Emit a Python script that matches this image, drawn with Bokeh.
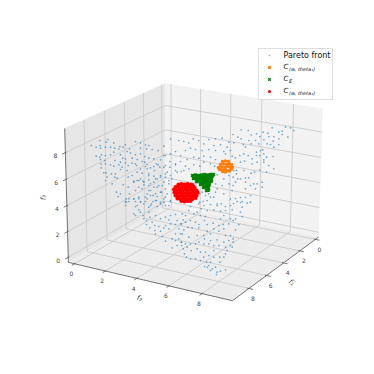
import numpy as np
from bokeh.plotting import figure
from bokeh.embed import file_html
from bokeh.resources import INLINE
from bokeh.core.properties import value

ticks = [0, 2, 4, 6, 8]
tick_labels = ["0", "2", "4", "6", "8"]
lim_lo, lim_hi = -0.4, 9.8

# Box corners: (f1, f2, f3) limits -> picture position
corner_keys = [(1,0,0),(1,1,0),(0,1,0),(0,0,0),(1,0,1),(0,0,1),(0,1,1)]
corner_pos = [(68,262),(232,300),(318,237),(165,205),(64,128),(165,83),(322,108)]

# Pareto front points, region by region, in 1/3 px
region_a_origin = (85, 135)
region_a = [(17,30),(32,35),(43,15),(44,30),(45,38),(62,20),(67,12),(85,22),(60,35),(75,35),(88,38),(100,40),(103,33),(113,35),(120,28),(132,40),(150,18),(165,22),(165,38),(180,28),(190,30),(200,42),(218,45),(183,40),(32,62),(43,65),(48,58),(45,72),(60,60),(75,58),(58,75),(47,85),(60,85),(47,97),(85,50),(105,58),(125,48),(135,52),(150,58),(165,55),(112,68),(120,70),(140,68),(155,72),(178,63),(190,68),(205,70),(88,75),(105,80),(120,82),(150,85),(170,78),(178,80),(185,87),(75,88),(85,92),(100,88),(110,95),(105,102),(128,90),(125,105),(185,100),(205,93),(218,88),(190,115),(205,122),(215,130),(55,112),(62,112),(78,115),(90,115),(65,125),(88,125),(95,128),(80,145),(60,135),(113,148),(128,125),(128,155),(145,137),(155,135),(165,130),(172,137),(190,133),(160,155),(175,148),(190,150),(205,140),(215,155),(93,170),(105,175),(98,183),(122,190),(132,175),(130,190),(122,200),(145,190),(160,190),(165,200),(185,175),(195,165),(203,180),(215,183),(185,190),(213,195),(198,205)]
region_b_origin = (160, 135)
region_b = [(10,32),(30,10),(55,15),(70,18),(85,22),(98,10),(115,15),(130,25),(145,12),(165,10),(185,8),(205,20),(220,22),(160,30),(180,28),(200,35),(90,38),(105,42),(125,45),(145,42),(165,45),(190,48),(210,45),(10,60),(30,55),(45,48),(60,60),(75,45),(80,72),(100,65),(115,68),(130,62),(150,65),(165,72),(195,55),(215,62),(28,78),(45,88),(60,78),(45,105),(62,108),(75,92),(85,100),(100,88),(118,92),(130,80),(150,85),(162,92),(10,95),(20,110),(0,120),(15,125),(35,130),(5,150),(25,145),(3,170),(20,175),(10,190),(30,195),(118,175),(125,170),(135,180),(145,175),(165,145),(170,160),(190,130),(205,120),(218,125),(185,150),(205,145),(215,165),(190,175),(210,190),(160,185),(140,195),(118,200),(170,205),(115,130),(170,118)]
region_c_origin = (230, 120)
region_c = [(32,28),(53,30),(8,42),(22,50),(32,55),(62,43),(78,40),(98,35),(112,38),(125,22),(145,35),(155,32),(165,20),(180,22),(190,30),(172,50),(130,48),(115,48),(100,58),(88,48),(75,60),(55,60),(38,72),(45,80),(62,70),(85,70),(110,70),(128,62),(145,55),(155,42),(145,72),(130,80),(120,72),(97,88),(90,90),(78,95),(78,105),(88,105),(40,100),(28,105),(15,112),(53,105),(65,115),(100,100),(108,110),(128,108),(100,118),(100,125),(30,125),(42,122),(65,130),(80,125),(115,135),(88,148),(108,155),(130,145),(10,150),(18,150),(18,160),(40,150),(62,158),(72,155),(30,175),(45,172),(55,172),(15,185),(45,185),(60,195),(70,190),(80,190),(95,185),(95,200),(45,205),(75,205),(22,175),(8,195),(30,231),(45,231),(9,249),(30,246),(60,225),(15,234)]
region_d_origin = (110, 200)
region_d = [(45,3),(55,3),(75,3),(90,3),(105,3),(128,3),(150,10),(160,5),(180,3),(45,15),(75,18),(120,15),(140,18),(165,15),(85,28),(70,40),(75,45),(90,35),(115,35),(98,45),(100,55),(118,50),(135,45),(165,50),(180,45),(195,42),(215,40),(108,60),(125,65),(150,55),(175,58),(200,60),(218,58),(108,72),(118,82),(133,75),(145,78),(165,75),(180,70),(195,72),(210,70),(133,90),(150,92),(160,82),(175,85),(205,85),(220,88),(135,100),(155,108),(195,100),(210,100),(165,122),(185,115),(195,120),(205,115),(212,125),(185,142),(200,135),(213,135),(218,145),(222,160)]
region_e_origin = (180, 200)
region_e = [(30,18),(15,45),(25,30),(40,40),(50,35),(62,25),(68,3),(90,12),(110,15),(122,10),(135,18),(150,15),(170,3),(185,3),(200,8),(210,5),(185,20),(100,28),(120,32),(135,30),(155,28),(180,35),(80,30),(60,45),(75,48),(130,45),(150,55),(165,55),(120,55),(185,48),(158,60),(175,72),(15,65),(30,60),(3,70),(22,80),(45,65),(55,72),(72,60),(80,72),(98,68),(115,75),(128,72),(145,70),(35,82),(55,82),(80,92),(100,85),(130,85),(165,88),(5,100),(25,110),(50,105),(70,105),(90,100),(115,92),(135,105),(150,105),(158,115),(3,125),(15,130),(30,130),(45,130),(55,125),(72,115),(90,120),(110,118),(130,125),(145,120),(158,125),(150,135),(135,140),(115,135),(100,135),(85,130),(70,130),(20,140),(32,150),(50,145),(60,155),(75,155),(100,150),(135,160),(130,170),(118,170),(140,150),(155,140),(18,170),(30,175),(45,175),(60,180),(70,170),(85,165),(100,170),(118,185),(72,198),(85,195),(95,205),(105,200),(110,215),(120,212),(90,210),(80,200),(135,208),(108,222),(78,185),(90,185)]
region_f_origin = (130, 150)
region_f = [(5,38),(18,45),(30,55),(45,48),(60,52),(78,40),(90,28),(105,15),(5,75),(20,65),(35,68),(55,75),(72,60),(88,50),(105,45),(118,50),(135,40),(10,95),(25,90),(40,95),(60,100),(75,85),(90,80),(105,70),(120,75),(140,65),(160,60),(15,120),(35,115),(55,120),(70,110),(85,105),(100,95),(115,90),(10,145),(25,140),(45,140),(60,135),(75,130),(90,125),(105,115),(20,165),(40,160),(55,170),(75,150),(90,155),(105,140),(115,165),(205,160),(220,165),(240,140),(255,125)]

orange_x = [222,225,228,220,223,226,229,231,218,221,224,227,230,232,219,222,225,228,231,222,225,229]
orange_y = [161,160.5,161,164,163.5,164,163.5,164,167,166.5,167,166,167,166.5,169,169.5,169,170,168.5,171,171.5,170.5]
green_x = [192,195,198,201,204,207,210,213,193,196,199,202,205,208,211,196,199,202,205,208,211,200,203,206,209,203,206,208,206,208,194,197,200,203,206,209,212,198,201,204,207,210,201,204,207,205,208,193.5,200.5]
green_y = [175,174.5,175,174.5,174,174.5,174,174,178,178,177.5,178,177.5,178,177.5,181,180.5,181,180.5,181,180.5,184,183.5,184,183.5,187,186.5,187,190,189.5,176.5,176,176,175.5,176,175.5,175.5,179.5,179.5,179,179.5,179,182.5,182,182,185.5,185,176,178]
red_x = [178,181,184,187,190,192,175,178,181,184,187,190,193,194,173.5,176,179,182,185,188,191,194,196,174,177,180,183,186,189,192,195,197,175,178,181,184,187,190,193,196,177,180,183,186,189,192,195,181,184,187,190]
red_y = [184,183.5,184,183.5,184,184.5,186.5,186,186.5,186,186.5,186,186.5,187,189,189.5,189,189.5,189,189.5,189,189.5,190,192,192.5,192,192.5,192,192.5,192,192.5,192,195,195.5,195,195.5,195,195.5,195,195,198,198.5,198,198.5,198,198.5,197.5,200.5,201,200.5,200.5]

legend_labels = ["Pareto front", "C", "C", "C"]
legend_subs = ["", "(w, theta\u2081)", "E", "(w, theta\u2082)"]

# Fit a projective map from the box to the picture
A, b = [], []
for (u, v, w), (px, py) in zip(corner_keys, corner_pos):
    A.append([u, v, w, 1, 0, 0, 0, 0, -px*u, -px*v, -px*w]); b.append(px)
    A.append([0, 0, 0, 0, u, v, w, 1, -py*u, -py*v, -py*w]); b.append(py)
h = np.linalg.lstsq(np.array(A, float), np.array(b, float), rcond=None)[0]
def project(f1, f2, f3):
    s = lim_hi - lim_lo
    u, v, w = (f1-lim_lo)/s, (f2-lim_lo)/s, (f3-lim_lo)/s
    d = h[8]*u + h[9]*v + h[10]*w + 1
    return (h[0]*u+h[1]*v+h[2]*w+h[3])/d, (h[4]*u+h[5]*v+h[6]*w+h[7])/d

p = figure(width=366, height=366, x_range=(0, 366), y_range=(366, 0), toolbar_location=None,
           output_backend="svg", min_border=0, outline_line_color=None,
           background_fill_color="white", border_fill_color="white")
p.axis.visible = False
p.grid.visible = False

lo, hi = lim_lo, lim_hi
def pane(pts, color):
    xy = [project(*q) for q in pts]
    p.patch([q[0] for q in xy], [q[1] for q in xy], fill_color=color, line_color=color, line_width=0.5)
pane([(hi,lo,lo),(lo,lo,lo),(lo,lo,hi),(hi,lo,hi)], "#e6e6e6")
pane([(lo,lo,lo),(lo,hi,lo),(lo,hi,hi),(lo,lo,hi)], "#f2f2f2")
pane([(hi,lo,lo),(hi,hi,lo),(lo,hi,lo),(lo,lo,lo)], "#ececec")

gx, gy = [], []
def seg(a, b, xs=gx, ys=gy):
    q, r = project(*a), project(*b)
    xs.append([q[0], r[0]]); ys.append([q[1], r[1]])
for t in ticks:
    seg((t,hi,lo),(t,lo,lo)); seg((t,lo,lo),(t,lo,hi))
    seg((hi,t,lo),(lo,t,lo)); seg((lo,t,lo),(lo,t,hi))
    seg((hi,lo,t),(lo,lo,t)); seg((lo,lo,t),(lo,hi,t))
p.multi_line(gx, gy, line_color="#cccccc", line_width=0.9)

ax, ay = [], []
seg((hi,lo,lo),(hi,lo,hi),ax,ay); seg((hi,lo,lo),(hi,hi,lo),ax,ay); seg((hi,hi,lo),(lo,hi,lo),ax,ay)
for t in ticks:
    seg((hi+0.3,lo,t),(hi-0.1,lo,t),ax,ay)
    seg((hi+0.25,t,lo),(hi-0.1,t,lo),ax,ay)
    seg((t,hi+0.25,lo),(t,hi-0.1,lo),ax,ay)
p.multi_line(ax, ay, line_color="#555555", line_width=0.8)

font = value("DejaVu Sans")
def label(x, y, s, size="6px", style="normal", angle=0, color="#444444", align="center"):
    p.text([x], [y], text=[s], text_font=font, text_font_size=size, text_font_style=style,
           text_align=align, text_baseline="middle", text_color=color, angle=angle)
for t, s in zip(ticks, tick_labels):
    q = project(hi, lo, t); label(q[0]-10, q[1]+3, s)
    q = project(hi, t, lo); label(q[0]-3, q[1]+10, s)
    q = project(t, hi, lo); label(q[0]+4, q[1]+10, s)

label(139, 298, "f\u2082", size="7px", style="italic", angle=-0.25)
label(291, 282, "f\u2081", size="7px", style="italic", angle=-0.7)
label(43, 197, "f\u2083", size="7px", style="italic", angle=1.55)

par_x, par_y = [], []
for origin, region in [(region_a_origin, region_a), (region_b_origin, region_b), (region_c_origin, region_c),
                       (region_d_origin, region_d), (region_e_origin, region_e), (region_f_origin, region_f)]:
    par_x += [origin[0] + c[0]/3 for c in region]
    par_y += [origin[1] + c[1]/3 for c in region]

p.scatter(par_x, par_y, size=1.7, marker="circle", fill_color="#1f77b4", fill_alpha=0.6, line_color=None)
p.scatter(orange_x, orange_y, size=3.6, marker="circle", fill_color="#ff7f0e", line_color=None)
p.scatter(green_x, green_y, size=3.8, marker="x", line_color="#008000", line_width=1.8)
p.scatter(red_x, red_y, size=4.2, marker="circle", fill_color="#ff0000", line_color=None)

p.patch([258, 332, 332, 258], [48, 48, 99, 99], fill_color="white", fill_alpha=0.9, line_color="#d5d5d5", line_width=0.8)
ly = [55, 67, 79, 91]
p.scatter([269], [ly[0]], size=1.7, marker="circle", fill_color="#1f77b4", fill_alpha=0.6, line_color=None)
p.scatter([269], [ly[1]], size=3.4, marker="circle", fill_color="#ff7f0e", line_color=None)
p.scatter([269], [ly[2]], size=3.4, marker="x", line_color="#008000", line_width=1.2)
p.scatter([269], [ly[3]], size=3.0, marker="circle", fill_color="#ff0000", line_color=None)
label(283, ly[0], legend_labels[0], size="8px", color="#111111", align="left")
for y, c, sub in zip(ly[1:], legend_labels[1:], legend_subs[1:]):
    label(283, y-1, c, size="7px", style="italic", color="#111111", align="left")
    label(288.5, y+1.5, sub, size="5px", style="italic", color="#111111", align="left")

open("out.html", "w").write(file_html(p, INLINE))
